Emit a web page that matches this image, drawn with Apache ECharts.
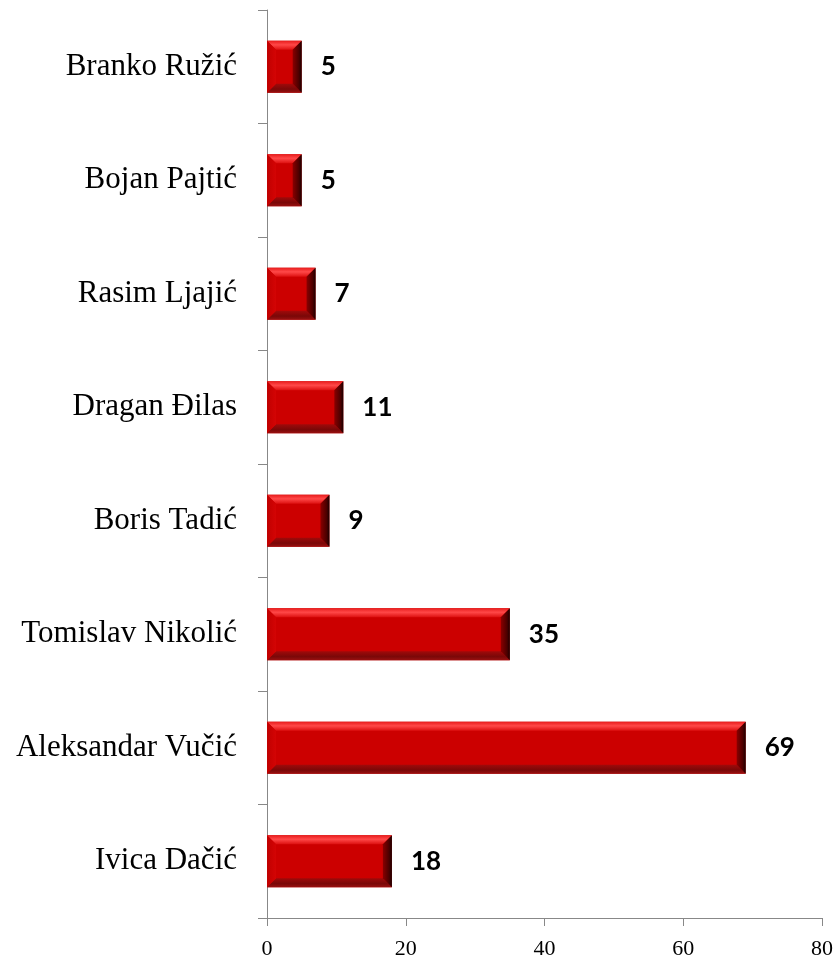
<!DOCTYPE html>
<html>
<head>
<meta charset="utf-8">
<script src="https://cdn.jsdelivr.net/npm/echarts@6/dist/echarts.min.js"></script>
<style>html,body{margin:0;padding:0;background:#fff}#c{width:837px;height:969px}</style>
</head>
<body>
<div id="c"></div>
<script>
const categories = ['Ivica Dačić','Aleksandar Vučić','Tomislav Nikolić','Boris Tadić','Dragan Đilas','Rasim Ljajić','Bojan Pajtić','Branko Ružić'];
const values = [18, 69, 35, 9, 11, 7, 5, 5];
const xTicks = [0, 20, 40, 60, 80];

const chart = echarts.init(document.getElementById('c'), null, {renderer: 'canvas'});
const BAR_H = 52;

function renderBevel(params, api) {
  const idx = api.value(0), v = api.value(1);
  const p0 = api.coord([0, idx]), p1 = api.coord([v, idx]);
  const x0 = p0[0], x1 = p1[0], y0 = p0[1] - BAR_H / 2, y1 = y0 + BAR_H;
  const b = Math.min(9, (x1 - x0) / 3);
  const poly = (pts, fill) => ({type: 'polygon', shape: {points: pts}, style: {fill: fill}});
  const G = echarts.graphic.LinearGradient;
  return {
    type: 'group',
    children: [
      {type: 'rect', shape: {x: x0, y: y0, width: x1 - x0, height: BAR_H}, style: {fill: '#cc0000'}},
      poly([[x0, y0], [x1, y0], [x1 - b, y0 + b], [x0 + b, y0 + b]],
        new G(0, 0, 0, 1, [{offset: 0, color: '#e81c1c'}, {offset: 0.45, color: '#ff4848'}, {offset: 1, color: '#dd1010'}])),
      poly([[x0, y1], [x1, y1], [x1 - b, y1 - b], [x0 + b, y1 - b]],
        new G(0, 0, 0, 1, [{offset: 0, color: '#a00a0a'}, {offset: 0.6, color: '#7a0808'}, {offset: 1, color: '#9a1010'}])),
      poly([[x0, y0], [x0 + b, y0 + b], [x0 + b, y1 - b], [x0, y1]],
        new G(0, 0, 1, 0, [{offset: 0, color: '#c00000'}, {offset: 1, color: '#d40404'}])),
      poly([[x1, y0], [x1 - b, y0 + b], [x1 - b, y1 - b], [x1, y1]],
        new G(0, 0, 1, 0, [{offset: 0, color: '#8a0000'}, {offset: 0.7, color: '#4a0000'}, {offset: 1, color: '#1a0000'}]))
    ]
  };
}

chart.setOption({
  animation: false,
  backgroundColor: '#ffffff',
  grid: {left: 267, right: 15, top: 10, bottom: 51, containLabel: false},
  xAxis: {
    type: 'value', min: xTicks[0], max: xTicks[xTicks.length - 1], interval: 20,
    splitLine: {show: false},
    axisLine: {show: true, lineStyle: {color: '#888888', width: 1}},
    axisTick: {show: true, length: 8, lineStyle: {color: '#888888'}},
    axisLabel: {margin: 20, color: '#000', fontFamily: 'Liberation Serif', fontSize: 22}
  },
  yAxis: {
    type: 'category', data: categories,
    axisLine: {show: true, lineStyle: {color: '#888888', width: 1}},
    axisTick: {show: true, length: 9, alignWithLabel: false, lineStyle: {color: '#888888'}},
    axisLabel: {margin: 30, color: '#000', fontFamily: 'Liberation Serif', fontSize: 31}
  },
  series: [{
    type: 'bar', data: values, barWidth: BAR_H,
    itemStyle: {color: 'rgba(0,0,0,0)'},
    label: {show: true, position: 'right', distance: 19, color: '#000',
      fontFamily: 'Lato', fontWeight: 'bold', fontSize: 26}
  }, {
    type: 'custom', renderItem: renderBevel, z: 3,
    data: values.map((v, i) => [i, v]),
    encode: {x: 1, y: 0}
  }]
});
</script>
</body>
</html>
